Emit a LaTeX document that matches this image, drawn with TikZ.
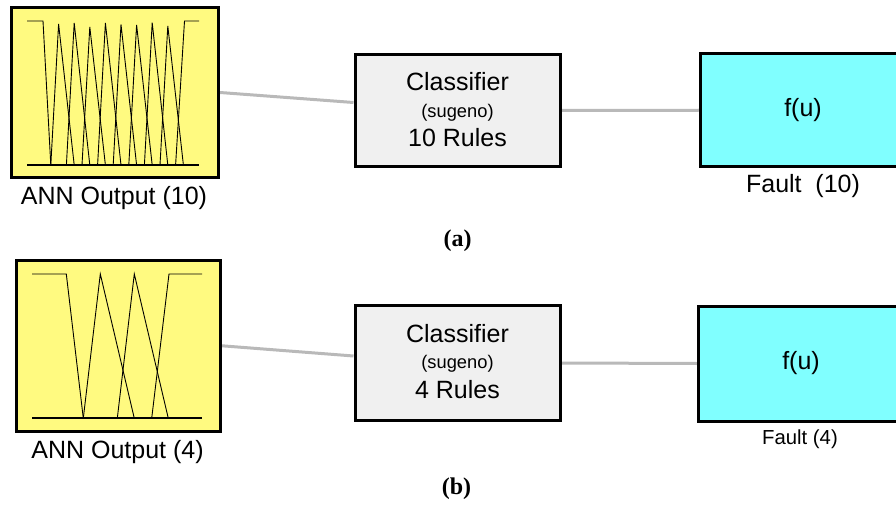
\documentclass[tikz,border=0pt]{standalone}
\usepackage{fontspec}
\setsansfont{Liberation Sans}
\newfontfamily\capfamily{Liberation Serif}
\usetikzlibrary{backgrounds}

\definecolor{mfyellow}{RGB}{255,250,128}
\definecolor{fisgray}{RGB}{240,240,240}
\definecolor{outcyan}{RGB}{128,255,255}
\definecolor{linkgray}{RGB}{185,185,185}

\tikzset{
  blockbox/.style={draw=black, line width=3pt, inner sep=0pt, rectangle},
  inbox/.style={blockbox, fill=mfyellow},
  fisbox/.style={blockbox, fill=fisgray, minimum width=205pt},
  outbox/.style={blockbox, fill=outcyan, minimum width=205pt},
  link/.style={draw=linkgray, line width=3pt},
  mf/.style={black, line width=0.9pt, line join=miter},
  mfbase/.style={black, line width=2pt},
  txt/.style={font=\sffamily\fontsize{25}{29}\selectfont, inner sep=0pt},
  smalltxt/.style={font=\sffamily\fontsize{18.3}{21}\selectfont, inner sep=0pt},
  midtxt/.style={font=\sffamily\fontsize{20.3}{23}\selectfont, inner sep=0pt},
  figcap/.style={font=\capfamily\bfseries\fontsize{24}{28}\selectfont, inner sep=0pt}
}

\begin{document}
\begin{tikzpicture}[x=1pt, y=-1pt]
  \useasboundingbox (0,0) rectangle (896,505);
  \clip (0,0) rectangle (896,505);

  % (a) ten output classes
  \node[inbox, minimum width=207.5pt, minimum height=170pt] (in1) at (114.75,92.5) {};
  \node[fisbox, minimum height=112pt] (fis1) at (457.5,110.5) {};
  \node[outbox, minimum height=112.5pt] (out1) at (803,110.25) {};

  % membership functions, spacing 15.6
  \def\sa{15.6}
  \draw[mf] (27,21) -- (43,21) -- (50.8,165);
  \foreach \k/\h in {1/24,2/23,3/27,4/23,5/24.5,6/25,7/22.7,8/26}
    \draw[mf] ({43+\k*\sa-\sa/2},165) -- ({43+\k*\sa},\h) -- ({43+(\k+1)*\sa},165);
  \draw[mf] (175.6,165) -- (184.5,21) -- (199,21);
  \draw[mfbase] (27,165) -- (199,165);

  \node[txt] (fis1a) at ([yshift=-29pt]fis1.north) {Classifier};
  \node[smalltxt] (fis1b) at ([yshift=-60pt]fis1.north) {(sugeno)};
  \node[txt] (fis1c) at ([yshift=-84.5pt]fis1.north) {10 Rules};
  \node[txt] (out1a) at (out1.center) {f(u)};
  \node[txt] (in1lbl) at (114,198) {ANN Output (10)};
  \node[txt] (out1lbl) at (803,186) {Fault\hspace{0.55em}(10)};
  \node[figcap] (capa) at (457.5,241) {(a)};

  \begin{pgfonlayer}{background}
    \draw[link] (in1.east) -- ([yshift=8pt]fis1.west);
    \draw[link] (fis1.east) -- (out1.west);
  \end{pgfonlayer}

  % (b) four output classes
  \node[inbox, minimum width=204pt, minimum height=171.5pt] (in2) at (118,345.75) {};
  \node[fisbox, minimum height=115pt] (fis2) at (457.5,363) {};
  \node[outbox, minimum height=115pt] (out2) at (801,363.5) {};

  % membership functions, spacing 34
  \def\sb{34}
  \draw[mf] (32,274) -- (66.3,274) -- (83.3,418.3);
  \foreach \k in {1,2}
    \draw[mf] ({66.3+\k*\sb-\sb/2},418.3) -- ({66.3+\k*\sb},274) -- ({66.3+(\k+1)*\sb},418.3);
  \draw[mf] (151.7,418.3) -- (169,274) -- (202,274);
  \draw[mfbase] (32,418.3) -- (202,418.3);

  \node[txt] (fis2a) at ([yshift=-30pt]fis2.north) {Classifier};
  \node[smalltxt] (fis2b) at ([yshift=-60pt]fis2.north) {(sugeno)};
  \node[txt] (fis2c) at ([yshift=-86pt]fis2.north) {4 Rules};
  \node[txt] (out2a) at (out2.center) {f(u)};
  \node[txt] (in2lbl) at (117.5,452) {ANN Output (4)};
  \node[midtxt] (out2lbl) at (800,439) {Fault (4)};
  \node[figcap] (capb) at (456.5,489) {(b)};

  \begin{pgfonlayer}{background}
    \draw[link] (in2.east) -- ([yshift=7pt]fis2.west);
    \draw[link] (fis2.east) -- (out2.west);
  \end{pgfonlayer}
\end{tikzpicture}
\end{document}
